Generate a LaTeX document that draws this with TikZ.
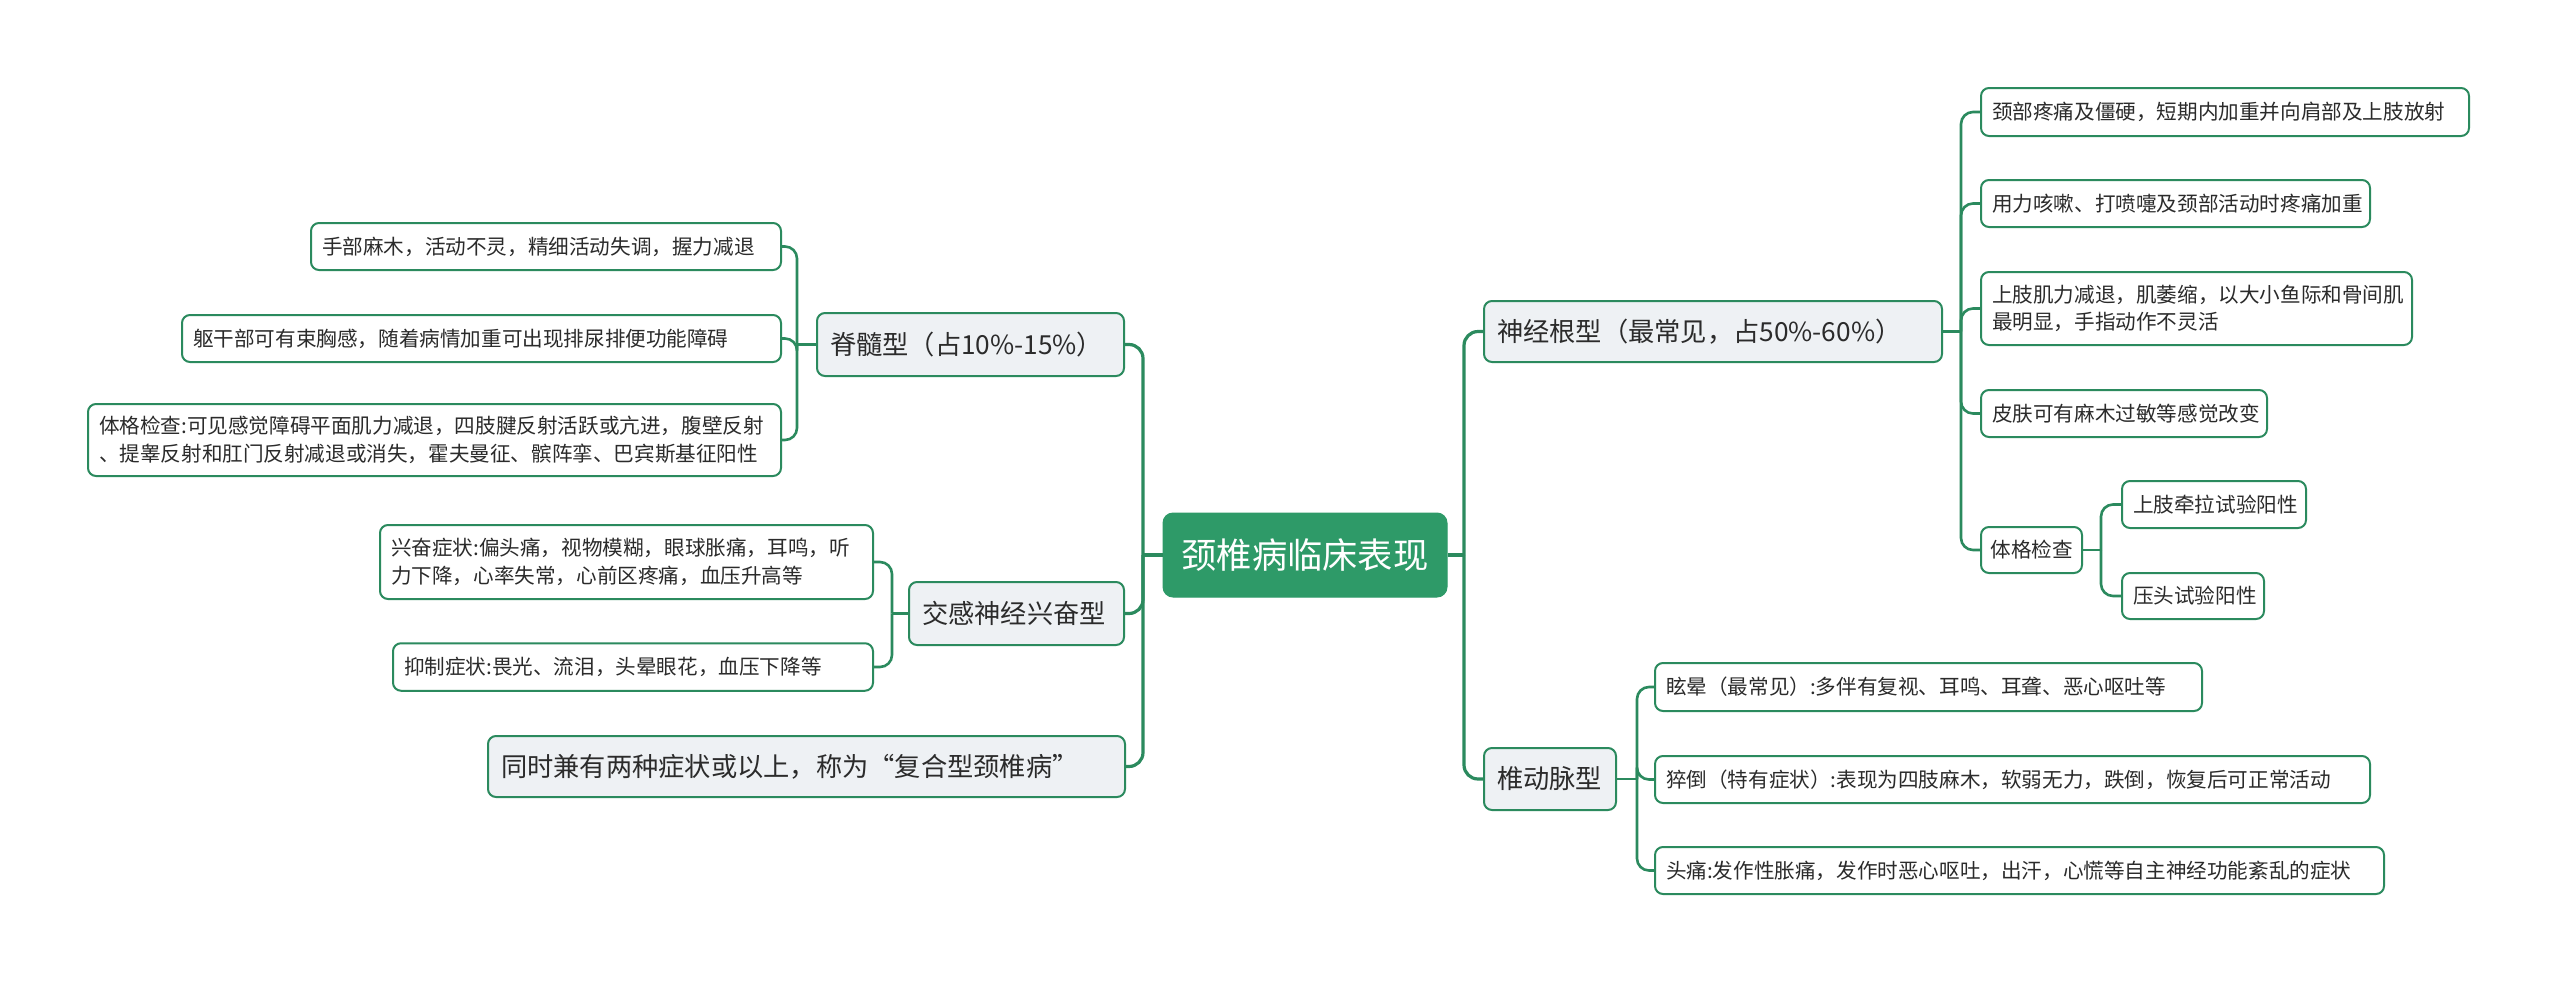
\documentclass[tikz,border=0pt]{standalone}
\usepackage{fontspec}
\setmainfont{Noto Sans CJK SC}
\definecolor{lineg}{HTML}{2B8A5E}
\definecolor{rootg}{HTML}{2E9A68}
\definecolor{brfill}{HTML}{EEF1F4}
\definecolor{txt}{HTML}{2B2B2B}
\tikzset{
  leaf/.style={draw=lineg, line width=2pt, rounded corners=8pt, fill=white, text=txt,
    font=\fontsize{20.6pt}{27.4pt}\selectfont, align=left, inner xsep=11pt, inner ysep=0pt},
  branch/.style={draw=lineg, line width=2pt, rounded corners=8pt, fill=brfill, text=txt,
    font=\fontsize{26.25pt}{32pt}\selectfont, align=left, inner xsep=13pt, inner ysep=0pt},
  rootbox/.style={draw=rootg, fill=rootg, line width=1pt, rounded corners=10pt, text=white,
    font=\fontsize{35.3pt}{40pt}\selectfont, inner sep=0pt, minimum width=284pt, minimum height=84pt},
  trunk/.style={draw=lineg, line width=3.2pt, rounded corners=14pt},
  link/.style={draw=lineg, line width=2.6pt, rounded corners=12pt}
}
\begin{document}
\begin{tikzpicture}[x=1pt, y=-1pt]
\useasboundingbox (0,0) rectangle (2560,983);
\fill[white] (0,0) rectangle (2560,983);

% root
\node[rootbox] (root) at (1305,555) {颈椎病临床表现};

% left branches
\node[branch, text width=281pt, minimum height=63pt] (B1) at (970.5,344.5) {脊髓型（占10\%-15\%）};
\node[branch, text width=189pt, minimum height=63pt] (B2) at (1016.5,613.5) {交感神经兴奋型};
\node[branch, text width=611pt, minimum height=61pt] (B3) at (806.5,766.5) {同时兼有两种症状或以上，称为“复合型颈椎病”};

% right branches
\node[branch, text width=432pt, minimum height=61pt] (R1) at (1713,331.5) {神经根型（最常见，占50\%-60\%）};
\node[branch, text width=106pt, minimum height=62pt] (R2) at (1550,779) {椎动脉型};

% B1 leaves
\node[leaf, text width=448pt, minimum height=47pt] (L1) at (546,246.5) {手部麻木，活动不灵，精细活动失调，握力减退};
\node[leaf, text width=577pt, minimum height=47pt] (L2) at (481.5,338.5) {躯干部可有束胸感，随着病情加重可出现排尿排便功能障碍};
\node[leaf, text width=671pt, minimum height=72pt] (L3) at (434.5,440) {体格检查:可见感觉障碍平面肌力减退，四肢腱反射活跃或亢进，腹壁反射\\、提睾反射和肛门反射减退或消失，霍夫曼征、髌阵挛、巴宾斯基征阳性};

% B2 leaves
\node[leaf, text width=471pt, minimum height=74pt] (L4) at (626.5,562) {兴奋症状:偏头痛，视物模糊，眼球胀痛，耳鸣，听\\力下降，心率失常，心前区疼痛，血压升高等};
\node[leaf, text width=458pt, minimum height=47.5pt] (L5) at (633,667) {抑制症状:畏光、流泪，头晕眼花，血压下降等};

% R1 leaves
\node[leaf, text width=466pt, minimum height=48pt] (RL1) at (2225,112) {颈部疼痛及僵硬，短期内加重并向肩部及上肢放射};
\node[leaf, text width=367pt, minimum height=47pt] (RL2) at (2175.5,203.5) {用力咳嗽、打喷嚏及颈部活动时疼痛加重};
\node[leaf, text width=409pt, minimum height=73pt] (RL3) at (2196.5,308.5) {上肢肌力减退，肌萎缩，以大小鱼际和骨间肌\\最明显，手指动作不灵活};
\node[leaf, text width=264pt, minimum height=47pt] (RL4) at (2124,413.5) {皮肤可有麻木过敏等感觉改变};
\node[leaf, text width=82pt, minimum height=46pt, inner xsep=9.5pt] (RL5) at (2031.5,550) {体格检查};
\node[leaf, text width=162pt, minimum height=47pt] (RL5a) at (2214,504.5) {上肢牵拉试验阳性};
\node[leaf, text width=120pt, minimum height=46pt] (RL5b) at (2193,596) {压头试验阳性};

% R2 leaves
\node[leaf, text width=525pt, minimum height=48pt] (RV1) at (1928.5,687) {眩晕（最常见）:多伴有复视、耳鸣、耳聋、恶心呕吐等};
\node[leaf, text width=693pt, minimum height=47pt] (RV2) at (2012.5,779.5) {猝倒（特有症状）:表现为四肢麻木，软弱无力，跌倒，恢复后可正常活动};
\node[leaf, text width=707pt, minimum height=47pt] (RV3) at (2019.5,870.5) {头痛:发作性胀痛，发作时恶心呕吐，出汗，心慌等自主神经功能紊乱的症状};

% junctions
\coordinate (jL) at (1143,555);
\coordinate (jR) at (1464,555);
\coordinate (jB1) at (797,344.5);
\coordinate (jB2) at (892,613.5);
\coordinate (jR1) at (1961,331.5);
\coordinate (jR5) at (2101,550);
\coordinate (jR2) at (1637,779);

% trunk connectors
\draw[trunk] (root.west) -- (jL);
\draw[trunk] (jL) |- (B1.east);
\draw[trunk] (jL) |- (B2.east);
\draw[trunk] (jL) |- (B3.east);
\draw[trunk] (root.east) -- (jR);
\draw[trunk] (jR) |- (R1.west);
\draw[trunk] (jR) |- (R2.west);

% B1 leaves
\draw[link] (B1.west) -- (jB1);
\draw[link] (jB1) |- (L1.east);
\draw[link] (jB1) |- (L2.east);
\draw[link] (jB1) |- (L3.east);
% B2 leaves
\draw[link] (B2.west) -- (jB2);
\draw[link] (jB2) |- (L4.east);
\draw[link] (jB2) |- (L5.east);
% R1 leaves
\draw[link] (R1.east) -- (jR1);
\draw[link] (jR1) |- (RL1.west);
\draw[link] (jR1) |- (RL2.west);
\draw[link] (jR1) |- (RL3.west);
\draw[link] (jR1) |- (RL4.west);
\draw[link] (jR1) |- (RL5.west);
% RL5 leaves
\draw[link] (RL5.east) -- (jR5);
\draw[link] (jR5) |- (RL5a.west);
\draw[link] (jR5) |- (RL5b.west);
% R2 leaves
\draw[link] (R2.east) -- (jR2);
\draw[link] (jR2) |- (RV1.west);
\draw[link] (jR2) |- (RV2.west);
\draw[link] (jR2) |- (RV3.west);
\end{tikzpicture}
\end{document}
